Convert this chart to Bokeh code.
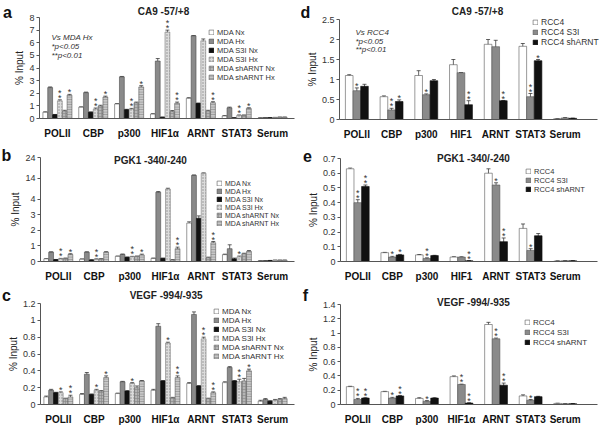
from bokeh.plotting import figure
from bokeh.models import (Range1d, ColumnDataSource, FixedTicker, Label,
                          Legend, LegendItem, Whisker, TeeHead)
from bokeh.layouts import row, column
from bokeh.embed import file_html
from bokeh.resources import INLINE
from bokeh.core.properties import value

FONT = "Liberation Sans"

# ---------------- data ----------------
targets_alpha = ["POLII", "CBP", "p300", "HIF1\u03b1", "ARNT", "STAT3", "Serum"]
targets_plain = ["POLII", "CBP", "p300", "HIF1", "ARNT", "STAT3", "Serum"]
mda_series = ["MDA Nx", "MDA Hx", "MDA S3I Nx", "MDA S3I Hx", "MDA shARNT Nx", "MDA shARNT Hx"]
rcc_series = ["RCC4", "RCC4 S3I", "RCC4 shARNT"]

# a: CA9 -57/+8 (MDA)
a_vals = [
    [0.50, 0.90, 1.15, 0.35, 1.60, 0.20, 0.05],
    [2.45, 2.05, 3.30, 4.55, 6.55, 0.85, 0.07],
    [0.30, 0.50, 0.70, 0.10, 1.20, 0.05, 0.06],
    [1.40, 0.75, 0.75, 6.85, 6.15, 0.25, 0.08],
    [0.60, 1.00, 1.25, 0.55, 0.60, 0.25, 0.10],
    [1.85, 1.70, 2.50, 1.20, 1.25, 0.80, 0.10],
]
a_errs = [
    [0.03, 0.02, 0.02, 0.03, 0.05, 0.02, 0.01],
    [0.05, 0.04, 0.03, 0.20, 0.02, 0.05, 0.01],
    [0.02, 0.02, 0.03, 0.01, 0.02, 0.01, 0.01],
    [0.08, 0.08, 0.05, 0.15, 0.15, 0.03, 0.01],
    [0.05, 0.05, 0.05, 0.08, 0.05, 0.03, 0.01],
    [0.06, 0.07, 0.10, 0.10, 0.08, 0.05, 0.01],
]
a_sig = [
    [0, 0, 0, 0, 0, 0, 0],
    [0, 0, 0, 0, 0, 0, 0],
    [0, 0, 0, 0, 0, 0, 0],
    [2, 2, 2, 2, 0, 2, 0],
    [0, 0, 0, 0, 0, 0, 0],
    [1, 1, 1, 2, 2, 1, 0],
]
a_ticks = [0, 1, 2, 3, 4, 5, 6, 7, 8]
a_tick_labels = ["0", "1", "2", "3", "4", "5", "6", "7", "8"]

# d: CA9 -57/+8 (RCC4)
d_vals = [
    [1.10, 0.57, 1.10, 1.37, 1.88, 1.83, 0.02],
    [0.72, 0.24, 0.62, 1.17, 1.82, 0.57, 0.04],
    [0.83, 0.45, 0.97, 0.37, 0.47, 1.47, 0.03],
]
d_errs = [
    [0.02, 0.02, 0.12, 0.13, 0.12, 0.07, 0.005],
    [0.07, 0.04, 0.02, 0.00, 0.16, 0.08, 0.005],
    [0.05, 0.04, 0.03, 0.10, 0.00, 0.03, 0.005],
]
d_sig = [
    [0, 0, 0, 0, 0, 0, 0],
    [1, 2, 1, 0, 0, 2, 0],
    [0, 1, 0, 2, 2, 1, 0],
]
d_ticks = [0, 0.5, 1, 1.5, 2, 2.5]
d_tick_labels = ["0", "0.5", "1", "1.5", "2", "2.5"]

# b: PGK1 -340/-240 (MDA), broken axis above 4
b_vals = [
    [0.17, 0.15, 0.33, 0.20, 2.46, 0.44, 0.05],
    [0.60, 0.60, 0.45, 7.30, 15.4, 0.82, 0.05],
    [0.12, 0.10, 0.27, 0.20, 2.77, 0.17, 0.06],
    [0.17, 0.15, 0.30, 8.80, 16.4, 0.30, 0.08],
    [0.20, 0.17, 0.33, 0.10, 0.25, 0.50, 0.08],
    [0.45, 0.60, 0.42, 0.82, 1.20, 0.65, 0.08],
]
b_errs = [
    [0.02, 0.01, 0.02, 0.02, 0.08, 0.03, 0.01],
    [0.02, 0.02, 0.03, 0.30, 0.20, 0.25, 0.01],
    [0.01, 0.01, 0.02, 0.02, 0.15, 0.05, 0.01],
    [0.03, 0.02, 0.03, 0.40, 0.20, 0.05, 0.01],
    [0.02, 0.02, 0.02, 0.02, 0.03, 0.03, 0.01],
    [0.05, 0.03, 0.05, 0.10, 0.08, 0.05, 0.01],
]
b_sig = [
    [0, 0, 0, 0, 0, 0, 0],
    [0, 0, 0, 0, 0, 0, 0],
    [0, 0, 0, 0, 0, 0, 0],
    [2, 2, 2, 0, 0, 1, 0],
    [0, 0, 0, 0, 0, 0, 0],
    [1, 0, 1, 2, 2, 0, 0],
]
b_ticks = [0, 1, 2, 3, 4, 14, 24]
b_tick_labels = ["0", "1", "2", "3", "4", "14", "24"]

# e: PGK1 -340/-240 (RCC4)
e_vals = [
    [0.63, 0.060, 0.045, 0.030, 0.60, 0.225, 0.003],
    [0.40, 0.030, 0.020, 0.030, 0.52, 0.075, 0.005],
    [0.51, 0.045, 0.040, 0.005, 0.135, 0.175, 0.005],
]
e_errs = [
    [0.005, 0.002, 0.002, 0.002, 0.030, 0.030, 0.001],
    [0.020, 0.005, 0.005, 0.002, 0.015, 0.012, 0.001],
    [0.010, 0.003, 0.002, 0.001, 0.025, 0.015, 0.001],
]
e_sig = [
    [0, 0, 0, 0, 0, 0, 0],
    [2, 1, 2, 0, 1, 1, 0],
    [2, 1, 0, 2, 2, 0, 0],
]
e_ticks = [0, 0.1, 0.2, 0.3, 0.4, 0.5, 0.6, 0.7]
e_tick_labels = ["0", "0.1", "0.2", "0.3", "0.4", "0.5", "0.6", "0.7"]

# c: VEGF -994/-935 (MDA)
c_vals = [
    [0.09, 0.12, 0.13, 0.17, 0.25, 0.26, 0.04],
    [0.17, 0.36, 0.27, 0.93, 1.07, 0.44, 0.06],
    [0.14, 0.12, 0.16, 0.28, 0.22, 0.28, 0.04],
    [0.14, 0.17, 0.25, 0.73, 0.78, 0.27, 0.05],
    [0.07, 0.16, 0.20, 0.08, 0.07, 0.28, 0.06],
    [0.09, 0.32, 0.28, 0.32, 0.14, 0.40, 0.07],
]
c_errs = [
    [0.010, 0.010, 0.005, 0.010, 0.010, 0.010, 0.010],
    [0.010, 0.020, 0.005, 0.030, 0.030, 0.010, 0.010],
    [0.005, 0.005, 0.005, 0.005, 0.005, 0.005, 0.005],
    [0.010, 0.010, 0.010, 0.010, 0.020, 0.030, 0.010],
    [0.005, 0.005, 0.020, 0.005, 0.005, 0.030, 0.010],
    [0.020, 0.020, 0.005, 0.020, 0.010, 0.020, 0.015],
]
c_sig = [
    [0, 0, 0, 0, 0, 0, 0],
    [0, 0, 0, 0, 0, 0, 0],
    [0, 0, 0, 0, 0, 0, 0],
    [1, 1, 1, 1, 2, 2, 0],
    [0, 0, 0, 0, 0, 0, 0],
    [2, 1, 0, 2, 2, 1, 0],
]
c_ticks = [0, 0.2, 0.4, 0.6, 0.8, 1, 1.2]
c_tick_labels = ["0", "0.2", "0.4", "0.6", "0.8", "1", "1.2"]

# f: VEGF -994/-935 (RCC4)
f_vals = [
    [0.25, 0.18, 0.085, 0.39, 1.12, 0.12, 0.015],
    [0.07, 0.09, 0.045, 0.28, 0.92, 0.06, 0.010],
    [0.09, 0.12, 0.090, 0.02, 0.27, 0.11, 0.012],
]
f_errs = [
    [0.005, 0.004, 0.010, 0.010, 0.030, 0.015, 0.003],
    [0.015, 0.010, 0.010, 0.005, 0.010, 0.010, 0.002],
    [0.005, 0.005, 0.005, 0.005, 0.030, 0.005, 0.002],
]
f_sig = [
    [0, 0, 0, 0, 0, 0, 0],
    [2, 1, 1, 2, 2, 1, 0],
    [2, 2, 0, 2, 2, 0, 0],
]
f_ticks = [0, 0.2, 0.4, 0.6, 0.8, 1, 1.2, 1.4]
f_tick_labels = ["0", "0.2", "0.4", "0.6", "0.8", "1", "1.2", "1.4"]

# ---------------- styles / layout ----------------
BREAK = 0.133   # compression of panel b's axis above 4


def linear(v):
    return v


def broken(v):
    return v if v <= 4 else round(4 + (v - 4) * BREAK, 6)


mda_styles = [
    dict(fill_color="white", line_color="#555555"),
    dict(fill_color="#8a8a8a", line_color="#4a4a4a"),
    dict(fill_color="#111111", line_color="#111111"),
    dict(fill_color="#dcdcdc", line_color="#7a7a7a", hatch_pattern="dot", hatch_color="#8c8c8c",
         hatch_scale=3, hatch_weight=0.6),
    dict(fill_color="#b5b5b5", line_color="#6a6a6a", hatch_pattern="cross", hatch_color="#858585",
         hatch_scale=3, hatch_weight=0.6),
    dict(fill_color="#c8c8c8", line_color="#5a5a5a", hatch_pattern="horizontal_line", hatch_color="#7a7a7a",
         hatch_scale=2.5, hatch_weight=0.6),
]
rcc_styles = [
    dict(fill_color="white", line_color="#555555"),
    dict(fill_color="#8a8a8a", line_color="#555555"),
    dict(fill_color="#111111", line_color="#111111"),
]

# box = figure (x0, y0, w, h); axes = (y-axis x, end of last category, end of x-axis line,
# pixel row of value 0, pixel row of the top tick) -- all in page pixels
panels = {
    "a": dict(box=(0, 0, 300, 140), axes=(39, 290, 294, 118, 17), letter=(7, 12),
              cats=targets_alpha, series=mda_series, styles=mda_styles, vals=a_vals, errs=a_errs, sig=a_sig,
              ticks=a_ticks, tick_labels=a_tick_labels, scale=linear, bw=0.135,
              title=("CA9 -57/+8", 163, 11),
              notes=[("Vs MDA Hx", 51, 37), ("*p<0.05", 51, 46), ("**p<0.01", 51, 55)],
              legend=(208, 32, 9, 7.5, 0)),
    "d": dict(box=(300, 0, 304, 140), axes=(339, 582, 597, 119, 19), letter=(305, 12),
              cats=targets_plain, series=rcc_series, styles=rcc_styles, vals=d_vals, errs=d_errs, sig=d_sig,
              ticks=d_ticks, tick_labels=d_tick_labels, scale=linear, bw=0.22,
              title=("CA9 -57/+8", 477, 11),
              notes=[("Vs RCC4", 355, 32), ("*p<0.05", 355, 41), ("**p<0.01", 355, 49)],
              legend=(532, 22, 10, 8.5, 0)),
    "b": dict(box=(0, 140, 300, 142), axes=(40, 290, 294, 261, 157), letter=(6, 155),
              cats=targets_alpha, series=mda_series, styles=mda_styles, vals=b_vals, errs=b_errs, sig=b_sig,
              ticks=b_ticks, tick_labels=b_tick_labels, scale=broken, bw=0.135,
              title=("PGK1 -340/-240", 150, 160), notes=[],
              legend=(216, 183, 8, 7, 0)),
    "e": dict(box=(300, 140, 304, 142), axes=(340, 582, 597, 261, 158), letter=(307, 155),
              cats=targets_plain, series=rcc_series, styles=rcc_styles, vals=e_vals, errs=e_errs, sig=e_sig,
              ticks=e_ticks, tick_labels=e_tick_labels, scale=linear, bw=0.22,
              title=("PGK1 -340/-240", 473, 158), notes=[],
              legend=(525, 172, 8, 7.5, 0)),
    "c": dict(box=(0, 282, 300, 144), axes=(40, 290, 294, 404, 303), letter=(6, 295),
              cats=targets_alpha, series=mda_series, styles=mda_styles, vals=c_vals, errs=c_errs, sig=c_sig,
              ticks=c_ticks, tick_labels=c_tick_labels, scale=linear, bw=0.135,
              title=("VEGF  -994/-935", 167, 295), notes=[],
              legend=(213, 310, 9, 8, 0)),
    "f": dict(box=(300, 282, 304, 144), axes=(340, 582, 597, 404, 304), letter=(305, 295),
              cats=targets_alpha, series=rcc_series, styles=rcc_styles, vals=f_vals, errs=f_errs, sig=f_sig,
              ticks=f_ticks, tick_labels=f_tick_labels, scale=linear, bw=0.22,
              title=("VEGF -994/-935", 473, 302), notes=[],
              legend=(524, 322, 10, 8, 0)),
}


def build(key):
    cfg = panels[key]
    x0, y0, w, h = cfg["box"]
    ax_x, cat_end, axis_end, zero_y, tick_top = cfg["axes"]
    cats = cfg["cats"]
    ncat = len(cats)
    sc = cfg["scale"]
    tick_pos = [sc(t) for t in cfg["ticks"]]

    kx = (cat_end - ax_x) / ncat                  # pixels per category
    ky = (zero_y - tick_top) / tick_pos[-1]       # pixels per value unit
    x_start = -0.5 - (ax_x - x0) / kx
    x_end = x_start + w / kx
    y_start = -(y0 + h - zero_y) / ky
    y_end = y_start + h / ky

    def fxy(X, Y):   # page pixels -> frame (screen) coordinates
        return X - x0, y0 + h - Y

    p = figure(x_range=Range1d(x_start, x_end), y_range=Range1d(y_start, y_end),
               width=w, height=h, output_backend="svg", toolbar_location=None, tools="",
               min_border=0, min_border_left=0, min_border_right=0, min_border_top=0, min_border_bottom=0,
               title=None)
    p.outline_line_color = None
    p.xgrid.visible = False
    p.ygrid.visible = False
    p.background_fill_color = "white"
    p.border_fill_color = "white"

    ya = p.yaxis[0]
    ya.fixed_location = -0.5
    ya.ticker = FixedTicker(ticks=tick_pos)
    ya.bounds = (0, tick_pos[-1])
    ya.major_label_overrides = {tp: lab for tp, lab in zip(tick_pos, cfg["tick_labels"])}
    ya.axis_line_color = "#555555"
    ya.major_tick_line_color = "#555555"
    ya.major_tick_out = 3
    ya.major_tick_in = 0
    ya.minor_tick_line_color = None
    ya.major_label_text_font = FONT
    ya.major_label_text_font_size = "9px"
    ya.major_label_text_color = "#333333"
    ya.major_label_standoff = 2
    ya.axis_label = "% Input"
    ya.axis_label_text_font = FONT
    ya.axis_label_text_font_size = "10px"
    ya.axis_label_text_font_style = "normal"
    ya.axis_label_text_color = "#222222"
    ya.axis_label_standoff = 1

    xa = p.xaxis[0]
    xa.fixed_location = 0
    xa.ticker = FixedTicker(ticks=list(range(ncat)))
    xa.major_label_overrides = {i: c for i, c in enumerate(cats)}
    xa.bounds = (-0.5, -0.5 + (axis_end - ax_x) / kx)
    xa.axis_line_color = "#555555"
    xa.major_tick_line_color = None
    xa.minor_tick_line_color = None
    xa.major_label_text_font = FONT
    xa.major_label_text_font_size = "10px"
    xa.major_label_text_font_style = "bold"
    xa.major_label_text_color = "#111111"
    xa.major_label_standoff = 3

    n = len(cfg["series"])
    bw = cfg["bw"]
    renderers = []
    for i, name in enumerate(cfg["series"]):
        off = (i - (n - 1) / 2) * bw
        vals, errs, sig = cfg["vals"][i], cfg["errs"][i], cfg["sig"][i]
        xs = [j + off for j in range(ncat)]
        src = ColumnDataSource(dict(
            x=xs,
            top=[sc(v) for v in vals],
            upper=[sc(v + e) for v, e in zip(vals, errs)],
            lower=[sc(max(v - e, 0)) for v, e in zip(vals, errs)],
        ))
        r = p.vbar(x="x", top="top", width=bw, source=src, line_width=0.6, **cfg["styles"][i])
        renderers.append(r)
        wk = Whisker(source=src, base="x", upper="upper", lower="lower",
                     line_color="#222222", line_width=0.7,
                     upper_head=TeeHead(size=4, line_color="#222222", line_width=0.7),
                     lower_head=TeeHead(size=4, line_color="#222222", line_width=0.7))
        p.add_layout(wk)
        s_x, s_y, s_dy = [], [], []
        for xx, v, e, k in zip(xs, vals, errs, sig):
            for j in range(k):
                s_x.append(xx)
                s_y.append(sc(v + e))
                s_dy.append(-2 - 5 * j)
        if s_x:
            p.text(x="x", y="y", y_offset="dy", text=value("*"),
                   source=ColumnDataSource(dict(x=s_x, y=s_y, dy=s_dy)),
                   text_font=value(FONT), text_font_size=value("9px"), text_align="center",
                   text_baseline="middle", text_color="#333333")

    # legend
    lgx, lgy, lh, fsize, spacing = cfg["legend"]
    n_items = len(renderers)
    item_h = max(lh, 1.15 * fsize)
    height = n_items * item_h + (n_items - 1) * spacing
    fx, fy = fxy(lgx, lgy)
    top = fy + item_h / 2
    legend = Legend(items=[LegendItem(label=s, renderers=[r]) for s, r in zip(cfg["series"], renderers)],
                    location=(fx, top - height), orientation="vertical",
                    label_text_font=FONT, label_text_font_size=f"{fsize}px", label_text_color="#333333",
                    glyph_width=6, glyph_height=6, label_height=lh, label_standoff=3, spacing=spacing,
                    padding=0, margin=0, border_line_color=None, background_fill_alpha=0)
    p.add_layout(legend)

    # panel letter, title and notes
    lx, ly = fxy(*cfg["letter"])
    p.add_layout(Label(x=lx, y=ly, x_units="screen", y_units="screen", text=key, text_font=FONT,
                       text_font_size="16px", text_font_style="bold", text_color="#111111",
                       text_align="center", text_baseline="middle"))
    tt, tx, ty = cfg["title"]
    tx, ty = fxy(tx, ty)
    p.add_layout(Label(x=tx, y=ty, x_units="screen", y_units="screen", text=tt, text_font=FONT,
                       text_font_size="10px", text_font_style="bold", text_color="#222222",
                       text_align="center", text_baseline="middle"))
    for txt, nx, ny in cfg["notes"]:
        nx, ny = fxy(nx, ny)
        p.add_layout(Label(x=nx, y=ny, x_units="screen", y_units="screen", text=txt, text_font=FONT,
                           text_font_size="8px", text_font_style="italic", text_color="#333333",
                           text_align="left", text_baseline="middle"))
    return p


layout = column(*[row(build(l), build(r)) for l, r in (("a", "d"), ("b", "e"), ("c", "f"))])

open("out.html", "w").write(file_html(layout, INLINE))
